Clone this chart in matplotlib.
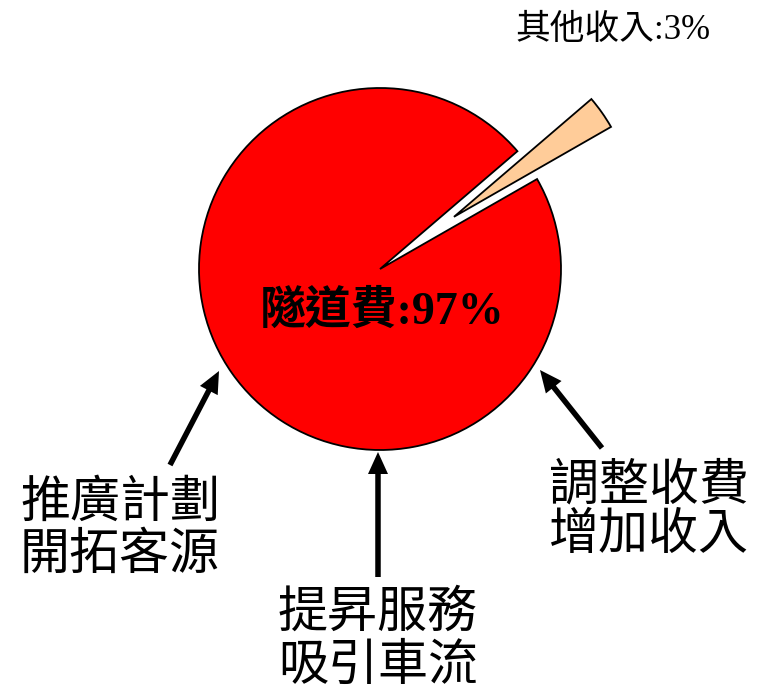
import matplotlib
matplotlib.use("Agg")
import matplotlib.pyplot as plt

# ---- data ----
categories = ["隧道費", "其他收入"]
values = [97, 3]
pct_labels = ["隧道費:97%", "其他收入:3%"]
colors = ["#FF0000", "#FFCC99"]
strategies = [["推廣計劃", "開拓客源"], ["提昇服務", "吸引車流"], ["調整收費", "增加收入"]]

W, H = 758, 693
CX, CY, R = 380, 269, 181  # pie centre / radius in pixels


def X(px):
    return (px - CX) / R


def Y(py):
    return (CY - py) / R


fig = plt.figure(figsize=(W / 100, H / 100), dpi=100)
ax = fig.add_axes([0, 0, 1, 1])
ax.pie(values, colors=colors, startangle=40.6, counterclock=True,
       explode=[0, 0.5], radius=1.0, center=(0, 0),
       wedgeprops=dict(edgecolor="black", linewidth=1.3))
ax.set_xlim(X(0), X(W))
ax.set_ylim(Y(H), Y(0))
ax.set_aspect("equal")
ax.axis("off")

fam = ["Liberation Serif", "Noto Sans CJK TC"]

ax.text(X(382), Y(312), pct_labels[0], ha="center", va="center",
        fontsize=33, fontweight="bold", family=fam)
ax.text(X(613), Y(30), pct_labels[1], ha="center", va="center",
        fontsize=25, family=fam)

# strategy labels
label_pos = [((120, 504), (120, 557)), ((378, 614), (378, 668)), ((649, 487), (649, 537))]
for lines, poss in zip(strategies, label_pos):
    for txt, (px, py) in zip(lines, poss):
        ax.text(X(px), Y(py), txt, ha="center", va="center",
                fontsize=36, family=fam)

# arrows (tail -> tip), in pixels
arrows = [((170, 465), (219, 371)), ((378, 577), (378, 452)), ((602, 448), (540, 370))]
for (tx, ty), (hx, hy) in arrows:
    ax.arrow(X(tx), Y(ty), X(hx) - X(tx), Y(hy) - Y(ty),
             width=5.5 / R, head_width=20 / R, head_length=22 / R,
             length_includes_head=True, color="black", lw=0)

fig.savefig("out.png", dpi=100)
